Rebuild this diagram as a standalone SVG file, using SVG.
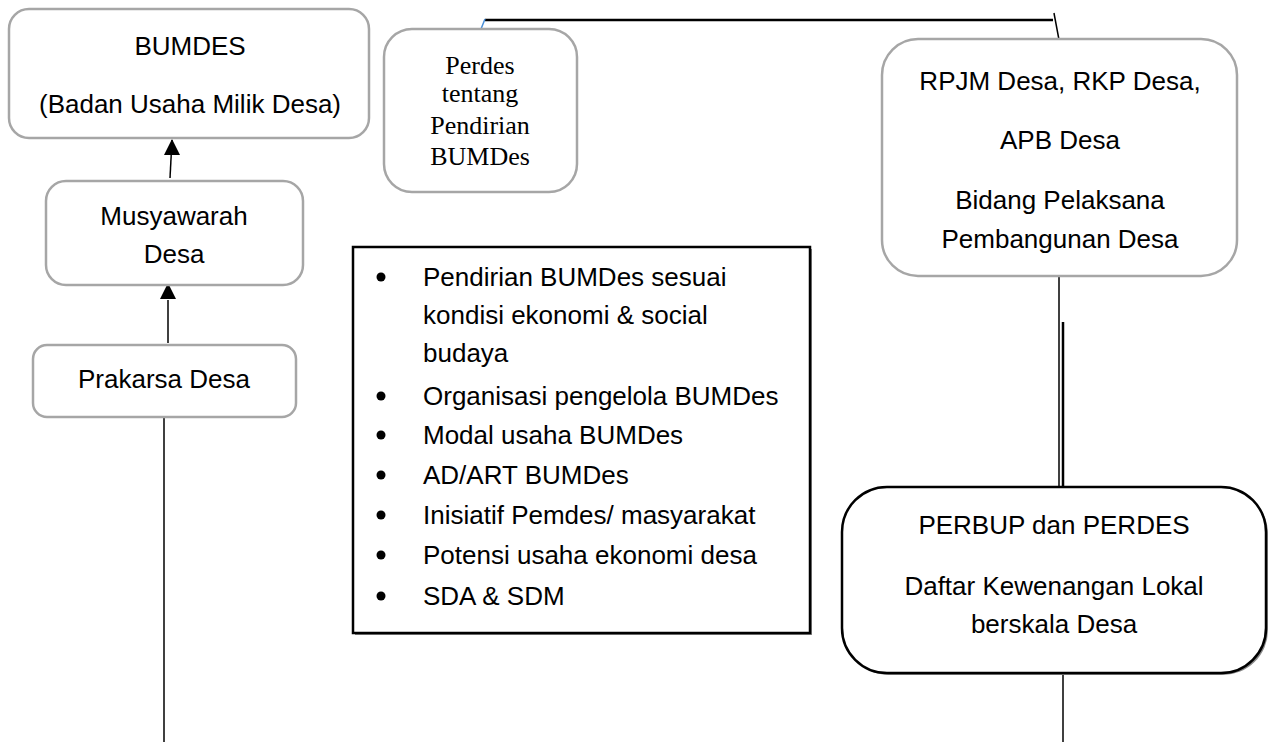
<svg xmlns="http://www.w3.org/2000/svg" width="1275" height="742" viewBox="0 0 1275 742">
<style>
.gbox{fill:#fff;stroke:#a6a6a6;stroke-width:2.5}
.bbox{fill:#fff;stroke:#000;stroke-width:2.5}
.t{font-family:"Liberation Sans",Arial,sans-serif;font-size:26px;fill:#000}
.c{text-anchor:middle}
.s{font-family:"Liberation Serif","Times New Roman",serif;font-size:26px;fill:#000;text-anchor:middle}
.ln{stroke:#000;stroke-width:1.5;fill:none}
.ln2{stroke:#000;stroke-width:2.5;fill:none}
</style>
<rect width="1275" height="742" fill="#fff"/>
<g id="connectors">
<line class="ln" x1="170" y1="178" x2="172" y2="140"/>
<path d="M164,155 L180,155 L172,139 z" fill="#000"/>
<line class="ln" x1="168" y1="343" x2="168" y2="300"/>
<path d="M160,299 L176,299 L168,283 z" fill="#000"/>
<line class="ln" x1="164" y1="417" x2="164" y2="742"/>
<line class="ln2" x1="485" y1="20" x2="1053" y2="20"/>
<line x1="481" y1="29" x2="485" y2="19" stroke="#4a90d9" stroke-width="1.5"/>
<line class="ln" x1="481" y1="29" x2="481" y2="49"/>
<line class="ln" x1="1054" y1="13" x2="1059" y2="40"/>
<line class="ln" x1="1059" y1="276" x2="1059" y2="490"/>
<line class="ln2" x1="1063" y1="322" x2="1063" y2="495"/>
<line class="ln" x1="1063" y1="669" x2="1063" y2="742"/>
</g>
<g id="bumdes">
<rect class="gbox" x="9" y="9" width="360" height="129" rx="20"/>
<text class="t c" x="190" y="55">BUMDES</text>
<text class="t c" x="190" y="113">(Badan Usaha Milik Desa)</text>
</g>
<g id="musyawarah">
<rect class="gbox" x="46" y="181" width="257" height="104" rx="20"/>
<text class="t c" x="174" y="225">Musyawarah</text>
<text class="t c" x="174" y="263">Desa</text>
</g>
<g id="prakarsa">
<rect class="gbox" x="33" y="345" width="263" height="72" rx="14"/>
<text class="t c" x="164" y="388">Prakarsa Desa</text>
</g>
<g id="perdes">
<rect class="gbox" x="384" y="29" width="193" height="163" rx="28"/>
<text class="s" x="480" y="74">Perdes</text>
<text class="s" x="480" y="102">tentang</text>
<text class="s" x="480" y="134">Pendirian</text>
<text class="s" x="480" y="165">BUMDes</text>
</g>
<g id="rpjm">
<rect class="gbox" x="882" y="39" width="355" height="237" rx="36"/>
<text class="t c" x="1060" y="90">RPJM Desa, RKP Desa,</text>
<text class="t c" x="1060" y="149">APB Desa</text>
<text class="t c" x="1060" y="209">Bidang Pelaksana</text>
<text class="t c" x="1060" y="248">Pembangunan Desa</text>
</g>
<g id="kriteria">
<rect x="355" y="249" width="457" height="386" fill="#888"/>
<rect class="bbox" x="353" y="247" width="457" height="386"/>
<g class="t">
<circle cx="381" cy="277" r="4.5"/>
<text x="423" y="286">Pendirian BUMDes sesuai</text>
<text x="423" y="324">kondisi ekonomi &amp; social</text>
<text x="423" y="362">budaya</text>
<circle cx="381" cy="396" r="4.5"/>
<text x="423" y="405">Organisasi pengelola BUMDes</text>
<circle cx="381" cy="435" r="4.5"/>
<text x="423" y="444">Modal usaha BUMDes</text>
<circle cx="381" cy="475" r="4.5"/>
<text x="423" y="484">AD/ART BUMDes</text>
<circle cx="381" cy="515" r="4.5"/>
<text x="423" y="524">Inisiatif Pemdes/ masyarakat</text>
<circle cx="381" cy="555" r="4.5"/>
<text x="423" y="564">Potensi usaha ekonomi desa</text>
<circle cx="381" cy="596" r="4.5"/>
<text x="423" y="605">SDA &amp; SDM</text>
</g>
</g>
<g id="perbup">
<rect x="844" y="489" width="424" height="186" rx="45" fill="#888"/>
<rect class="bbox" x="842" y="487" width="424" height="186" rx="45"/>
<text class="t c" x="1054" y="534">PERBUP dan PERDES</text>
<text class="t c" x="1054" y="595">Daftar Kewenangan Lokal</text>
<text class="t c" x="1054" y="633">berskala Desa</text>
</g>
</svg>
